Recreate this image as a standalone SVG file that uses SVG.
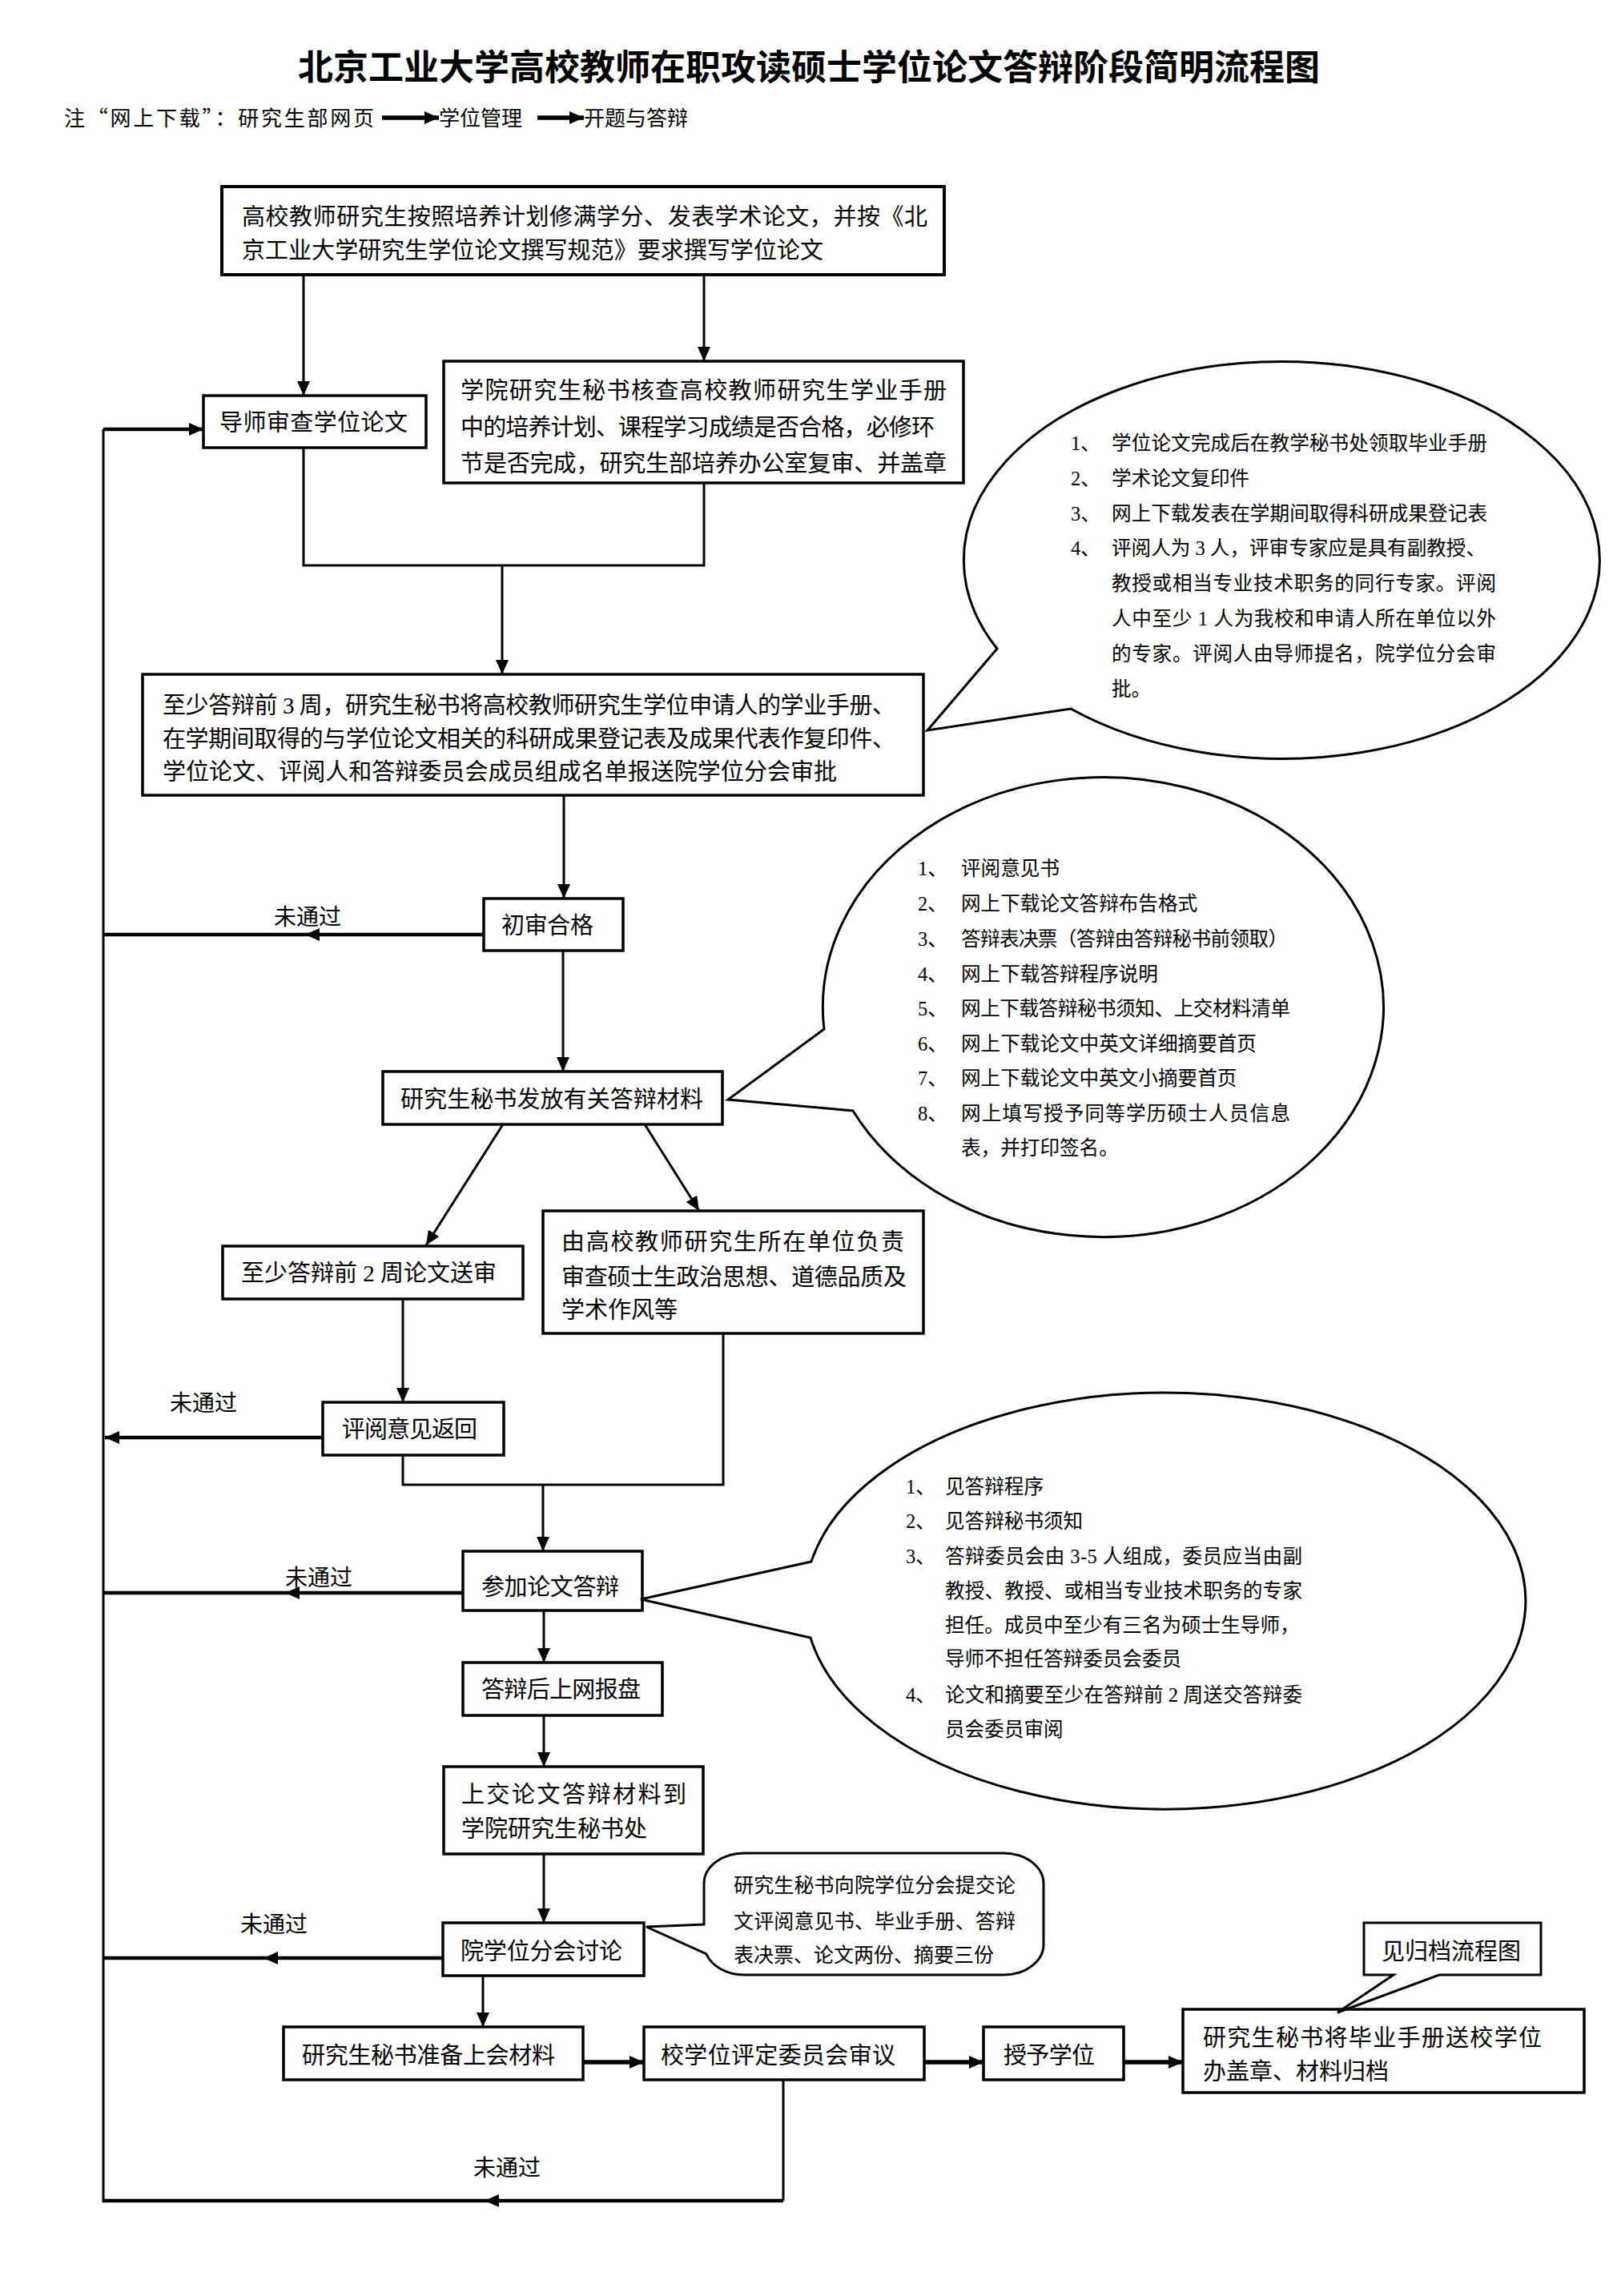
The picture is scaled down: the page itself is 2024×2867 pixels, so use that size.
<svg xmlns="http://www.w3.org/2000/svg" width="2024" height="2867" viewBox="0 0 2024 2867">
<style>
.bg{fill:#fff}
.box{fill:#fff;stroke:#000;stroke-width:3.5}
.co{fill:#fff;stroke:#000;stroke-width:3;stroke-linejoin:miter}
.t{font-family:"Liberation Serif","Noto Sans CJK SC",serif;font-size:29px;fill:#000}
.c{font-family:"Liberation Serif","Noto Sans CJK SC",serif;font-size:24.6px;fill:#000}
.lbl{font-family:"Liberation Serif","Noto Sans CJK SC",serif;font-size:28px;fill:#000}
.title{font-family:"Noto Sans CJK SC",sans-serif;font-size:44px;font-weight:bold;fill:#000}
.note{font-family:"Noto Sans CJK SC","Liberation Serif",sans-serif;font-size:26px;fill:#000}
.ln{fill:none;stroke:#000;stroke-width:3}
.th{stroke-width:4.5}
.hv{stroke-width:5.5}
</style>
<defs>
<marker id="ah" markerUnits="userSpaceOnUse" markerWidth="18" markerHeight="16" refX="18" refY="8" orient="auto">
<path d="M0,0 L18,8 L0,16 Z" fill="#000"/>
</marker>
</defs>
<rect class="bg" x="0" y="0" width="2024" height="2867"/>

<g id="title">
<text class="title" x="1010" y="100" text-anchor="middle">北京工业大学高校教师在职攻读硕士学位论文答辩阶段简明流程图</text>
</g>
<g id="note">
<text class="note" x="80" y="157" textLength="387" lengthAdjust="spacing">注“网上下载”：研究生部网页</text>
<path class="ln hv" d="M477 147 H548" marker-end="url(#ah)"/>
<text class="note" x="548" y="157">学位管理</text>
<path class="ln hv" d="M671 147 H729" marker-end="url(#ah)"/>
<text class="note" x="729" y="157">开题与答辩</text>
</g>

<g id="connectors">
<path class="ln" d="M379 343 V494" marker-end="url(#ah)"/>
<path class="ln" d="M879 343 V451" marker-end="url(#ah)"/>
<path class="ln" d="M379 559 V706 H879 V603"/>
<path class="ln" d="M627 706 V842" marker-end="url(#ah)"/>
<path class="ln" d="M704 993 V1122" marker-end="url(#ah)"/>
<path class="ln th" d="M604 1167 H381" marker-end="url(#ah)"/>
<path class="ln th" d="M381 1167 H129"/>
<path class="ln" d="M703 1187 V1338" marker-end="url(#ah)"/>
<path class="ln" d="M628 1404 L532 1555" marker-end="url(#ah)"/>
<path class="ln" d="M805 1404 L873 1512" marker-end="url(#ah)"/>
<path class="ln" d="M503 1622 V1751" marker-end="url(#ah)"/>
<path class="ln th" d="M403 1795 H131" marker-end="url(#ah)"/>
<path class="ln" d="M503 1817 V1854 H903 V1665"/>
<path class="ln" d="M678 1854 V1937" marker-end="url(#ah)"/>
<path class="ln th" d="M578 1989 H356" marker-end="url(#ah)"/>
<path class="ln th" d="M356 1989 H129"/>
<path class="ln" d="M679 2011 V2076" marker-end="url(#ah)"/>
<path class="ln" d="M679 2142 V2206" marker-end="url(#ah)"/>
<path class="ln" d="M679 2315 V2401" marker-end="url(#ah)"/>
<path class="ln th" d="M553 2445 H329" marker-end="url(#ah)"/>
<path class="ln th" d="M329 2445 H129"/>
<path class="ln" d="M603 2467 V2531" marker-end="url(#ah)"/>
<path class="ln hv" d="M728 2575 H804" marker-end="url(#ah)"/>
<path class="ln hv" d="M1154 2575 H1228" marker-end="url(#ah)"/>
<path class="ln hv" d="M1403 2575 H1477" marker-end="url(#ah)"/>
<path class="ln" d="M978 2597 V2748"/>
<path class="ln th" d="M978 2748 H605" marker-end="url(#ah)"/>
<path class="ln th" d="M605 2748 H128"/>
<path class="ln" d="M129 2750 V536"/>
<path class="ln th" d="M129 536 H254" marker-end="url(#ah)"/>
<text class="lbl" x="342" y="1155">未通过</text>
<text class="lbl" x="212" y="1762">未通过</text>
<text class="lbl" x="356" y="1980">未通过</text>
<text class="lbl" x="300" y="2413">未通过</text>
<text class="lbl" x="591" y="2717">未通过</text>
</g>

<g id="n1">
<rect class="box" x="277" y="233" width="902" height="110" style="stroke-width:4"/>
<text class="t" x="302" y="281" textLength="856" lengthAdjust="spacing">高校教师研究生按照培养计划修满学分、发表学术论文，并按《北</text>
<text class="t" x="302" y="323" textLength="726" lengthAdjust="spacing">京工业大学研究生学位论文撰写规范》要求撰写学位论文</text>
</g>
<g id="n2">
<rect class="box" x="254" y="494" width="278" height="65"/>
<text class="t" x="274" y="538" textLength="235" lengthAdjust="spacing">导师审查学位论文</text>
</g>
<g id="n3">
<rect class="box" x="554" y="451" width="649" height="152"/>
<text class="t" x="575" y="498" textLength="607" lengthAdjust="spacing">学院研究生秘书核查高校教师研究生学业手册</text>
<text class="t" x="575" y="544" textLength="592" lengthAdjust="spacing">中的培养计划、课程学习成绩是否合格，必修环</text>
<text class="t" x="575" y="589" textLength="607" lengthAdjust="spacing">节是否完成，研究生部培养办公室复审、并盖章</text>
</g>
<g id="n4">
<rect class="box" x="178" y="842" width="975" height="151"/>
<text class="t" x="203" y="891" textLength="915" lengthAdjust="spacing">至少答辩前 3 周，研究生秘书将高校教师研究生学位申请人的学业手册、</text>
<text class="t" x="203" y="933" textLength="915" lengthAdjust="spacing">在学期间取得的与学位论文相关的科研成果登记表及成果代表作复印件、</text>
<text class="t" x="203" y="974" textLength="842" lengthAdjust="spacing">学位论文、评阅人和答辩委员会成员组成名单报送院学位分会审批</text>
</g>
<g id="n5">
<rect class="box" x="604" y="1122" width="174" height="65"/>
<text class="t" x="626" y="1166" textLength="115" lengthAdjust="spacing">初审合格</text>
</g>
<g id="n6">
<rect class="box" x="478" y="1338" width="424" height="66"/>
<text class="t" x="500" y="1383" textLength="378" lengthAdjust="spacing">研究生秘书发放有关答辩材料</text>
</g>
<g id="n7">
<rect class="box" x="278" y="1556" width="375" height="66"/>
<text class="t" x="301" y="1600" textLength="319" lengthAdjust="spacing">至少答辩前 2 周论文送审</text>
</g>
<g id="n8">
<rect class="box" x="678" y="1512" width="475" height="153"/>
<text class="t" x="701" y="1561" textLength="428" lengthAdjust="spacing">由高校教师研究生所在单位负责</text>
<text class="t" x="701" y="1605" textLength="431" lengthAdjust="spacing">审查硕士生政治思想、道德品质及</text>
<text class="t" x="701" y="1646">学术作风等</text>
</g>
<g id="n9">
<rect class="box" x="403" y="1751" width="226" height="66"/>
<text class="t" x="427" y="1795" textLength="169" lengthAdjust="spacing">评阅意见返回</text>
</g>
<g id="n10">
<rect class="box" x="578" y="1937" width="224" height="74"/>
<text class="t" x="601" y="1992" textLength="172" lengthAdjust="spacing">参加论文答辩</text>
</g>
<g id="n11">
<rect class="box" x="578" y="2076" width="249" height="66"/>
<text class="t" x="601" y="2120" textLength="199" lengthAdjust="spacing">答辩后上网报盘</text>
</g>
<g id="n12">
<rect class="box" x="554" y="2206" width="324" height="109"/>
<text class="t" x="576" y="2251" textLength="281" lengthAdjust="spacing">上交论文答辩材料到</text>
<text class="t" x="576" y="2294" textLength="232" lengthAdjust="spacing">学院研究生秘书处</text>
</g>
<g id="n13">
<rect class="box" x="553" y="2401" width="251" height="66"/>
<text class="t" x="575" y="2447" textLength="202" lengthAdjust="spacing">院学位分会讨论</text>
</g>
<g id="n14">
<rect class="box" x="354" y="2531" width="374" height="66"/>
<text class="t" x="377" y="2577" textLength="316" lengthAdjust="spacing">研究生秘书准备上会材料</text>
</g>
<g id="n15">
<rect class="box" x="804" y="2531" width="350" height="66"/>
<text class="t" x="825" y="2577" textLength="293" lengthAdjust="spacing">校学位评定委员会审议</text>
</g>
<g id="n16">
<rect class="box" x="1228" y="2531" width="175" height="66"/>
<text class="t" x="1253" y="2577" textLength="114" lengthAdjust="spacing">授予学位</text>
</g>
<g id="n17">
<rect class="box" x="1477" y="2509" width="501" height="104"/>
<text class="t" x="1502" y="2555" textLength="423" lengthAdjust="spacing">研究生秘书将毕业手册送校学位</text>
<text class="t" x="1502" y="2597">办盖章、材料归档</text>
</g>

<g id="callout1">
<path class="co" d="M1245 810 L1158 912 L1337 885 A397 248 0 1 0 1245 810 Z"/>
<text class="c" x="1337" y="562">1、</text><text class="c" x="1388" y="562" textLength="469" lengthAdjust="spacing">学位论文完成后在教学秘书处领取毕业手册</text>
<text class="c" x="1337" y="606">2、</text><text class="c" x="1388" y="606">学术论文复印件</text>
<text class="c" x="1337" y="650">3、</text><text class="c" x="1388" y="650" textLength="469" lengthAdjust="spacing">网上下载发表在学期间取得科研成果登记表</text>
<text class="c" x="1337" y="693">4、</text><text class="c" x="1388" y="693" textLength="467" lengthAdjust="spacing">评阅人为 3 人，评审专家应是具有副教授、</text>
<text class="c" x="1388" y="737" textLength="480" lengthAdjust="spacing">教授或相当专业技术职务的同行专家。评阅</text>
<text class="c" x="1388" y="781" textLength="480" lengthAdjust="spacing">人中至少 1 人为我校和申请人所在单位以外</text>
<text class="c" x="1388" y="825" textLength="480" lengthAdjust="spacing">的专家。评阅人由导师提名，院学位分会审</text>
<text class="c" x="1388" y="869">批。</text>
</g>

<g id="callout2">
<path class="co" d="M1029 1285 L909 1373 L1065 1387 A350 287 0 1 0 1029 1285 Z"/>
<text class="c" x="1146" y="1093">1、</text><text class="c" x="1200" y="1093">评阅意见书</text>
<text class="c" x="1146" y="1137">2、</text><text class="c" x="1200" y="1137">网上下载论文答辩布告格式</text>
<text class="c" x="1146" y="1181">3、</text><text class="c" x="1200" y="1181" textLength="408" lengthAdjust="spacing">答辩表决票（答辩由答辩秘书前领取）</text>
<text class="c" x="1146" y="1225">4、</text><text class="c" x="1200" y="1225">网上下载答辩程序说明</text>
<text class="c" x="1146" y="1268">5、</text><text class="c" x="1200" y="1268" textLength="411" lengthAdjust="spacing">网上下载答辩秘书须知、上交材料清单</text>
<text class="c" x="1146" y="1312">6、</text><text class="c" x="1200" y="1312">网上下载论文中英文详细摘要首页</text>
<text class="c" x="1146" y="1355">7、</text><text class="c" x="1200" y="1355">网上下载论文中英文小摘要首页</text>
<text class="c" x="1146" y="1399">8、</text><text class="c" x="1200" y="1399" textLength="411" lengthAdjust="spacing">网上填写授予同等学历硕士人员信息</text>
<text class="c" x="1200" y="1442">表，并打印签名。</text>
</g>

<g id="callout3">
<path class="co" d="M1013 1950 L800 1997 L1012 2045 A450 260 0 1 0 1013 1950 Z"/>
<text class="c" x="1131" y="1865">1、</text><text class="c" x="1180" y="1865">见答辩程序</text>
<text class="c" x="1131" y="1908">2、</text><text class="c" x="1180" y="1908">见答辩秘书须知</text>
<text class="c" x="1131" y="1952">3、</text><text class="c" x="1180" y="1952" textLength="446" lengthAdjust="spacing">答辩委员会由 3-5 人组成，委员应当由副</text>
<text class="c" x="1180" y="1995" textLength="446" lengthAdjust="spacing">教授、教授、或相当专业技术职务的专家</text>
<text class="c" x="1180" y="2038">担任。成员中至少有三名为硕士生导师，</text>
<text class="c" x="1180" y="2080">导师不担任答辩委员会委员</text>
<text class="c" x="1131" y="2125">4、</text><text class="c" x="1180" y="2125" textLength="446" lengthAdjust="spacing">论文和摘要至少在答辩前 2 周送交答辩委</text>
<text class="c" x="1180" y="2168">员会委员审阅</text>
</g>

<g id="callout4">
<path class="co" d="M929 2314 H1253 A50 38 0 0 1 1303 2352 V2428 A50 38 0 0 1 1253 2466 H929 A50 38 0 0 1 882 2440 L807 2406 L879 2403 V2352 A50 38 0 0 1 929 2314 Z"/>
<text class="c" x="916" y="2363" style="font-size:25px" textLength="352" lengthAdjust="spacing">研究生秘书向院学位分会提交论</text>
<text class="c" x="916" y="2408" style="font-size:25px" textLength="352" lengthAdjust="spacing">文评阅意见书、毕业手册、答辩</text>
<text class="c" x="916" y="2450" style="font-size:25px">表决票、论文两份、摘要三份</text>
</g>

<g id="callout5">
<path class="co" d="M1703 2401 H1924 V2466 H1797 L1670 2513 L1740 2466 H1703 Z"/>
<text class="t" x="1725" y="2447">见归档流程图</text>
</g>
</svg>
